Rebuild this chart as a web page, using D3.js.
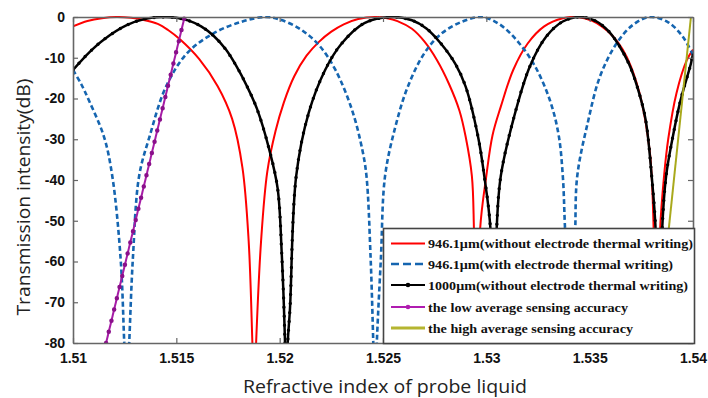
<!DOCTYPE html>
<html><head><meta charset="utf-8">
<script src="https://cdn.jsdelivr.net/npm/d3@7"></script>
<style>body{margin:0;background:#fff}svg{display:block}</style>
</head><body>
<svg id="c" width="708" height="398"></svg>
<script>
const xTicks = [1.51, 1.515, 1.52, 1.525, 1.53, 1.535, 1.54];
const xTickLabels = ["1.51", "1.515", "1.52", "1.525", "1.53", "1.535", "1.54"];
const yTicks = [0, -10, -20, -30, -40, -50, -60, -70, -80];
const yTickLabels = ["0", "-10", "-20", "-30", "-40", "-50", "-60", "-70", "-80"];

const seriesNames = [
  "946.1\u03bcm(without electrode thermal writing)",
  "946.1\u03bcm(with electrode thermal writing)",
  "1000\u03bcm(without electrode thermal writing)",
  "the low average sensing accuracy",
  "the high average sensing accuracy"
];

// transmission (dB) vs refractive index; nulls fall below the -80 dB axis limit
const red946 = [
  [1.5100,-2.3],[1.5107,-1.0],[1.5114,-0.3],[1.5121,0],[1.5128,-0.2],[1.5134,-0.7],[1.5141,-1.7],
  [1.5146,-3.2],[1.5152,-5.6],[1.5161,-10.3],[1.5170,-17],[1.5177,-25],[1.5182,-37],[1.5185,-55],
  [1.51868,-80],[1.51877,-95],[1.51886,-80],[1.5191,-55],[1.5194,-38],[1.5198,-28],[1.5202,-21],[1.5207,-14.6],
  [1.5213,-9.5],[1.5219,-6.1],[1.5225,-3.6],[1.5231,-1.8],[1.5238,-0.5],[1.5246,0],[1.5252,-0.3],
  [1.5257,-1.0],[1.5264,-2.9],[1.5270,-6.0],[1.5276,-10.5],[1.5282,-16.5],[1.5287,-23],[1.5290,-29.4],
  [1.5293,-39],[1.5294,-52],[1.52948,-80],[1.52955,-95],[1.52962,-80],[1.5297,-52],[1.5300,-39],[1.5303,-29],[1.5307,-22],
  [1.5313,-13],[1.5320,-6.5],[1.5328,-2.3],[1.5337,-0.3],[1.5344,0],[1.5351,-0.9],[1.5356,-2.4],
  [1.5361,-4.6],[1.5366,-8],[1.5370,-12.2],[1.5375,-20.5],[1.5379,-32.6],[1.5380,-39],[1.5381,-53],
  [1.53818,-80],[1.53825,-95],[1.53832,-80],[1.5384,-53],[1.5386,-39],[1.5388,-30],[1.5392,-18.7],[1.5397,-10.6],[1.5400,-8]
];

const blue946 = [
  [1.5100,-13],[1.5104,-16.5],[1.5108,-20.8],[1.5115,-29.4],[1.5119,-39],[1.5123,-59],[1.51248,-80],
  [1.5126,-95],[1.51272,-80],[1.5129,-59],[1.5132,-39],[1.5137,-29.4],[1.5145,-17.1],[1.5155,-9.0],[1.5168,-4],
  [1.5182,-1.1],[1.5193,0],[1.5200,-0.6],[1.5210,-3.0],[1.5219,-6.9],[1.5227,-13],[1.5235,-22.8],
  [1.5240,-32.6],[1.5242,-39],[1.5244,-59],[1.52453,-80],[1.52461,-95],[1.5247,-80],[1.5249,-59],[1.5251,-39],
  [1.5256,-26.9],[1.5262,-17.1],[1.5270,-8.9],[1.5278,-4.2],[1.5288,-1.2],[1.5298,0],[1.5307,-2],
  [1.5316,-6.5],[1.5324,-12.5],[1.5331,-20.8],[1.5335,-29],[1.5337,-39],[1.5338,-51],[1.53403,-80],
  [1.5341,-95],[1.53418,-80],[1.5343,-52.7],[1.5344,-39],[1.5349,-26.1],[1.5355,-14.6],[1.5363,-6.5],[1.5371,-1.9],
  [1.5379,0],[1.5388,-1.3],[1.5395,-4.8],[1.5400,-9.3]
];

const black1000 = [
  [1.5100,-13],[1.5108,-8.6],[1.5115,-5.5],[1.5126,-2],[1.5135,-0.45],[1.5143,0],[1.5150,-0.2],
  [1.5156,-0.9],[1.5162,-2.3],[1.5168,-4.6],[1.5174,-8.0],[1.5179,-12],[1.5184,-16.8],[1.5189,-22.5],
  [1.5195,-32.6],[1.5199,-42],[1.5201,-58],[1.52026,-80],[1.52032,-95],[1.52039,-80],[1.5205,-71.5],[1.5208,-39],
  [1.5214,-23.6],[1.5222,-13],[1.5230,-6.5],[1.5241,-1.5],[1.5254,0],[1.5264,-0.8],[1.5271,-2.8],
  [1.5278,-6.5],[1.5285,-11.5],[1.5290,-17.1],[1.5296,-29.4],[1.5299,-39],[1.5302,-52],[1.53028,-80],
  [1.53035,-95],[1.53042,-80],[1.5305,-52],[1.5307,-39],[1.5313,-25.3],[1.5321,-12.2],[1.5329,-4.8],[1.5337,-1.1],
  [1.5345,0],[1.5353,-1.0],[1.5359,-3.4],[1.5364,-6.8],[1.5369,-11.5],[1.5373,-17.1],[1.5377,-25],
  [1.5380,-39],[1.5382,-53],[1.53828,-80],[1.53835,-95],[1.53842,-80],[1.5385,-53],[1.5387,-39],[1.5390,-30],
  [1.5394,-20.4],[1.5399,-11.4],[1.5400,-9]
];

const lowAccuracy = [[1.5116,-80],[1.5154,0]];
const highAccuracy = [[1.53825,-80],[1.5399,0]];

const svg = d3.select("#c");
const x = d3.scaleLinear().domain([1.51, 1.54]).range([73, 693]);
const y = d3.scaleLinear().domain([-80, 0]).range([343, 17]);

svg.append("defs").append("clipPath").attr("id","clip")
  .append("rect").attr("x",73).attr("y",16).attr("width",621).attr("height",328);

const line = d3.line().x(d=>x(d[0])).y(d=>y(d[1])).curve(d3.curveCatmullRom.alpha(0.5));
const straight = d3.line().x(d=>x(d[0])).y(d=>y(d[1]));

const plot = svg.append("g").attr("clip-path","url(#clip)");
plot.append("path").attr("d", line(red946)).attr("fill","none").attr("stroke","#ff0000").attr("stroke-width",2);
plot.append("path").attr("d", line(blue946)).attr("fill","none").attr("stroke","#1565b0").attr("stroke-width",2.6).attr("stroke-dasharray","5,3");
plot.append("path").attr("d", line(black1000)).attr("fill","none").attr("stroke","#000").attr("stroke-width",2.5);
plot.append("path").attr("d", line(black1000)).attr("fill","none").attr("stroke","#000").attr("stroke-width",3.4).attr("stroke-linecap","round").attr("stroke-dasharray","0,9");
plot.append("path").attr("d", straight(lowAccuracy)).attr("fill","none").attr("stroke","#a61ca6").attr("stroke-width",2);
plot.append("path").attr("d", straight(lowAccuracy)).attr("fill","none").attr("stroke","#8a0f8a").attr("stroke-width",4.5).attr("stroke-linecap","round").attr("stroke-dasharray","0,11.5");
plot.append("path").attr("d", straight(highAccuracy)).attr("fill","none").attr("stroke","#a9a91c").attr("stroke-width",2);

// axes
const axisColor = "#666";
const tickFont = "bold 14px 'Liberation Sans', Arial, sans-serif";
const gx = svg.append("g").attr("transform","translate(0,343)")
  .call(d3.axisBottom(x).tickValues(xTicks).tickFormat((d,i)=>xTickLabels[i]).tickSizeInner(-5).tickSizeOuter(0).tickPadding(10));
const gxt = svg.append("g").attr("transform","translate(0,17)")
  .call(d3.axisTop(x).tickValues(xTicks).tickFormat("").tickSizeInner(-5).tickSizeOuter(0));
const gy = svg.append("g").attr("transform","translate(73,0)")
  .call(d3.axisLeft(y).tickValues(yTicks).tickFormat((d,i)=>yTickLabels[i]).tickSizeInner(-5).tickSizeOuter(0).tickPadding(8));
const gyr = svg.append("g").attr("transform","translate(693,0)")
  .call(d3.axisRight(y).tickValues(yTicks).tickFormat("").tickSizeInner(-5).tickSizeOuter(0));
[gx,gxt,gy,gyr].forEach(g=>{
  g.select(".domain").attr("stroke",axisColor).attr("stroke-width",1.6);
  g.selectAll(".tick line").attr("stroke",axisColor).attr("stroke-width",1.2);
  g.selectAll(".tick text").style("font", tickFont).attr("fill","#111");
});

// axis titles
svg.append("text").attr("x",385).attr("y",393).attr("text-anchor","middle")
  .style("font","18px 'Open Sans', sans-serif").attr("fill","#222")
  .attr("textLength",284).attr("lengthAdjust","spacingAndGlyphs")
  .text("Refractive index of probe liquid");
svg.append("text").attr("transform","translate(30,197) rotate(-90)").attr("text-anchor","middle")
  .style("font","18px 'Open Sans', sans-serif").attr("fill","#222")
  .attr("textLength",237).attr("lengthAdjust","spacingAndGlyphs")
  .text("Transmission intensity(dB)");

// legend
const lg = svg.append("g");
lg.append("rect").attr("x",383.5).attr("y",228.5).attr("width",311).attr("height",115)
  .attr("fill","#fff").attr("stroke","#444").attr("stroke-width",1.6);
const rowY = [243.5, 264, 285, 307, 328];
const textW = [265, 245, 260, 200, 205];
const legStyles = [
  {c:"#ff0000", w:2, dash:null, dot:false},
  {c:"#1565b0", w:2.5, dash:"8,4", dot:false},
  {c:"#000", w:2.2, dash:null, dot:true},
  {c:"#b01cb0", w:2, dash:null, dot:true},
  {c:"#b5b530", w:3, dash:null, dot:false}
];
seriesNames.forEach((name,i)=>{
  const s = legStyles[i];
  const l = lg.append("line").attr("x1",391).attr("x2",425).attr("y1",rowY[i]).attr("y2",rowY[i])
    .attr("stroke",s.c).attr("stroke-width",s.w);
  if (s.dash) l.attr("stroke-dasharray",s.dash);
  if (s.dot) lg.append("circle").attr("cx",408).attr("cy",rowY[i]).attr("r",2.3).attr("fill",s.c);
  lg.append("text").attr("x",428).attr("y",rowY[i]+4.5)
    .style("font","bold 13.5px 'Liberation Serif', 'Times New Roman', serif").attr("fill","#111")
    .attr("textLength",textW[i]).attr("lengthAdjust","spacingAndGlyphs")
    .text(name);
});
</script>
</body></html>
